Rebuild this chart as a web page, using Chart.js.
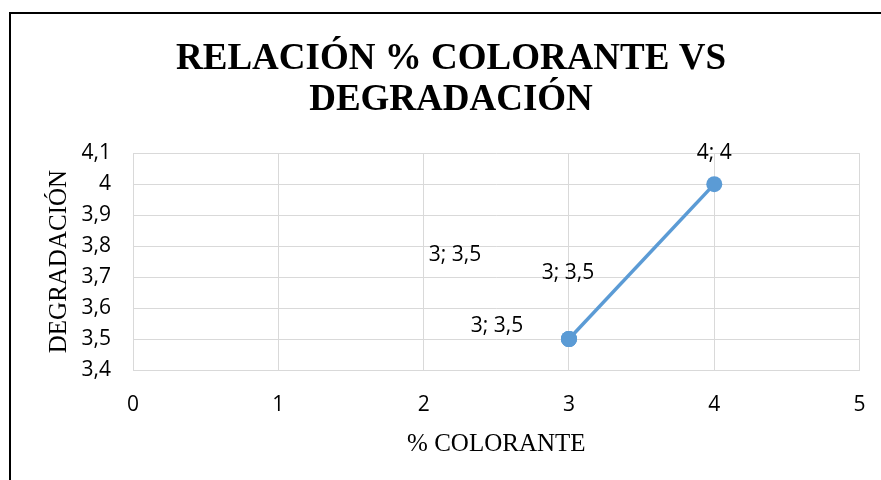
<!DOCTYPE html>
<html>
<head>
<meta charset="utf-8">
<script src="https://cdn.jsdelivr.net/npm/chart.js@4/dist/chart.umd.min.js"></script>
<style>
  html, body { margin: 0; padding: 0; background: #fff; }
  #wrap { width: 881px; height: 480px; }
</style>
</head>
<body>
<div id="wrap"><canvas id="degradacion-chart" width="881" height="480"></canvas></div>
<script>
// Data
const colorante = [3, 3, 3, 4];          // % colorante (x)
const degradacion = [3.5, 3.5, 3.5, 4];  // degradacion (y)
const xTicks = [0, 1, 2, 3, 4, 5];
const yTicks = [3.4, 3.5, 3.6, 3.7, 3.8, 3.9, 4.0, 4.1];

const lineColor = '#5B9BD5';
const gridColor = '#D9D9D9';

function comma(v) {
    return String(Math.round(v * 10) / 10).replace('.', ',');
}

// white background plus the outer frame of the chart object
const framePlugin = {
    id: 'frame',
    beforeDraw(chart) {
        const ctx = chart.ctx;
        ctx.save();
        ctx.fillStyle = '#fff';
        ctx.fillRect(0, 0, chart.width, chart.height);
        ctx.fillStyle = '#000';
        ctx.fillRect(9, 12, 2, chart.height - 12);
        ctx.fillRect(9, 12, chart.width - 9, 2);
        ctx.restore();
    }
};

// "x; y" labels, each one moved by hand like in the original sheet
const pointLabels = {
    id: 'pointLabels',
    afterDatasetsDraw(chart, args, opts) {
        const ctx = chart.ctx;
        const meta = chart.getDatasetMeta(0);
        ctx.save();
        ctx.font = opts.font;
        ctx.fillStyle = '#000';
        ctx.textAlign = 'center';
        ctx.textBaseline = 'middle';
        meta.data.forEach((pt, i) => {
            const off = opts.offsets[i] || [0, -30];
            const text = colorante[i] + '; ' + comma(degradacion[i]);
            ctx.fillText(text, pt.x + off[0], pt.y + off[1]);
        });
        ctx.restore();
    }
};

const ctx = document.getElementById('degradacion-chart').getContext('2d');
const chart = new Chart(ctx, {
    type: 'scatter',
    data: {
        datasets: [{
            data: colorante.map((x, i) => ({ x: x, y: degradacion[i] })),
            showLine: true,
            borderColor: lineColor,
            backgroundColor: lineColor,
            borderWidth: 3.5,
            pointRadius: 8,
            pointHoverRadius: 8,
            pointBorderWidth: 0,
            tension: 0
        }]
    },
    options: {
        responsive: false,
        animation: false,
        layout: {
            padding: { left: 42.4, right: 21.4, top: 0, bottom: 0 }
        },
        scales: {
            x: {
                type: 'linear',
                min: 0,
                max: 5,
                afterBuildTicks: (scale) => { scale.ticks = xTicks.map(v => ({ value: v })); },
                afterFit: (scale) => {
                    scale.height = 110;
                    scale.paddingLeft = 0;
                    scale.paddingRight = 0;
                },
                grid: { color: gridColor, lineWidth: 1, drawTicks: false },
                border: { color: gridColor, width: 1 },
                ticks: {
                    padding: 22,
                    color: '#000',
                    font: { family: 'Open Sans', size: 21, lineHeight: 1.2 }
                },
                title: {
                    display: true,
                    text: '% COLORANTE',
                    color: '#000',
                    padding: { top: 0, bottom: 23 },
                    font: { family: 'Liberation Serif', size: 25, lineHeight: 1 }
                }
            },
            y: {
                type: 'linear',
                min: 3.4,
                max: 4.1,
                afterBuildTicks: (scale) => { scale.ticks = yTicks.map(v => ({ value: v })); },
                afterFit: (scale) => {
                    scale.width = 90.6;
                    scale.paddingTop = 0;
                    scale.paddingBottom = 0;
                },
                grid: { color: gridColor, lineWidth: 1, drawTicks: false },
                border: { color: gridColor, width: 1 },
                ticks: {
                    padding: 22,
                    color: '#000',
                    font: { family: 'Open Sans', size: 21 },
                    callback: (value) => comma(value)
                },
                title: {
                    display: true,
                    text: 'DEGRADACIÓN',
                    color: '#000',
                    padding: { top: 4.1, bottom: 0 },
                    font: { family: 'Liberation Serif', size: 25, lineHeight: 1 }
                }
            }
        },
        plugins: {
            legend: { display: false },
            tooltip: { enabled: false },
            title: {
                display: true,
                text: ['RELACIÓN % COLORANTE VS', 'DEGRADACIÓN'],
                color: '#000',
                padding: { top: 38.5, bottom: 31.8 },
                font: { family: 'Liberation Serif', size: 37, weight: 'bold', lineHeight: 1.12 }
            },
            pointLabels: {
                font: '21px "Open Sans"',
                offsets: [[-114, -84], [-1, -66], [-72, -13], [0, -31.5]]
            }
        }
    },
    plugins: [framePlugin, pointLabels]
});
</script>
</body>
</html>
